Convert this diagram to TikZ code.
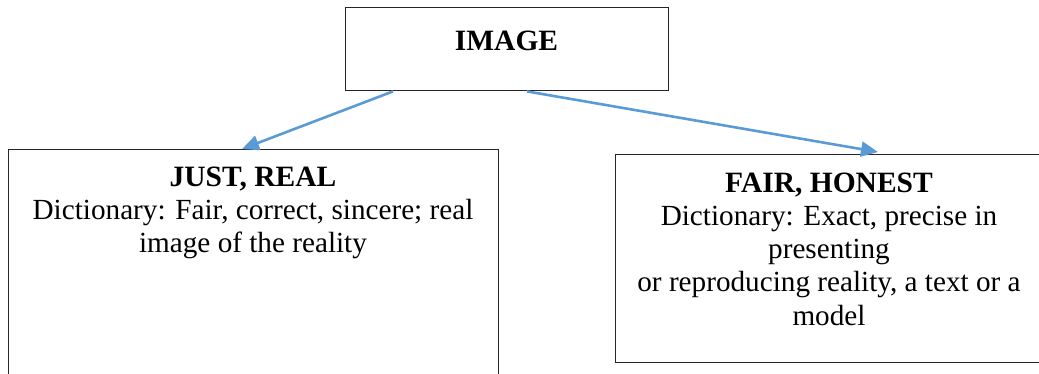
\documentclass[tikz,border=0pt]{standalone}
\usepackage{fontspec}
\setmainfont{Liberation Serif}
\usetikzlibrary{arrows.meta,calc}
\definecolor{linkblue}{HTML}{5B9BD5}
\tikzset{
  box/.style={draw=black!85, line width=1.4pt, rectangle, inner sep=0pt, anchor=north west},
  label/.style={align=center, anchor=base, inner sep=0pt,
    font=\fontsize{29.2}{33.2}\selectfont},
  link/.style={draw=linkblue, line width=2.6pt,
    -{Triangle[length=17pt,width=15pt]}},
}
\newcommand{\headtxt}[1]{{\fontsize{29.5}{33.2}\selectfont\bfseries #1}}
\begin{document}
\begin{tikzpicture}[x=1pt,y=-1pt]
  \useasboundingbox (0,0) rectangle (1039,374);
  \clip (0,0) rectangle (1039,374);
  % boxes
  \node[box, minimum width=323pt, minimum height=83pt] (top) at (345,7) {};
  \node[box, minimum width=490pt, minimum height=240pt] (left) at (8,149) {};
  \node[box, minimum width=428pt, minimum height=208pt] (right) at (615,154) {};
  % texts (base anchor sits on the last line)
  \node[label] (toptxt) at (506.5,51) {\headtxt{IMAGE}};
  \node[label] (lefttxt) at (253,253) {\headtxt{JUST, REAL}\\
    Dictionary: Fair, correct, sincere; real\\
    image of the reality};
  \node[label] (righttxt) at (829,325) {\headtxt{FAIR, HONEST}\\
    Dictionary: Exact, precise in\\
    presenting\\
    or reproducing reality, a text or a\\
    model};
  % connectors
  \draw[link] ([xshift=48pt]top.south west) -- ([xshift=234pt]left.north west);
  \draw[link] ([xshift=182pt]top.south west) -- ([xshift=263pt,yshift=2pt]right.north west);
\end{tikzpicture}
\end{document}
